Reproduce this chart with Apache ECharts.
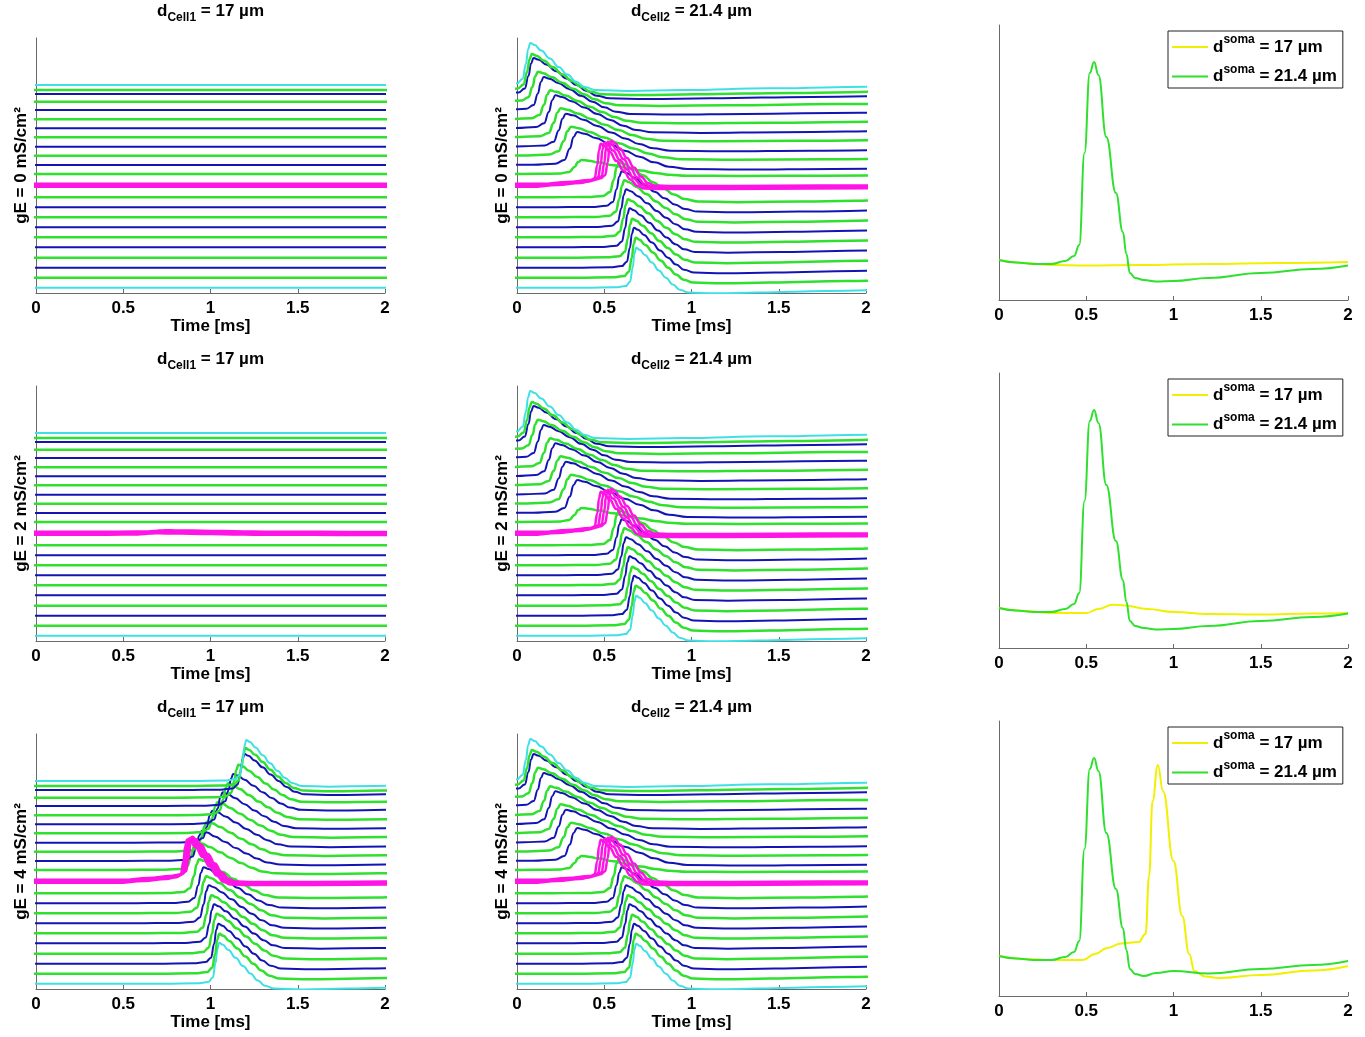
<!DOCTYPE html>
<html lang="en">
<head>
<meta charset="UTF-8">
<title>spike propagation traces</title>
<style>
  html, body { margin: 0; padding: 0; background: #fff; }
  #chart { width: 1365px; height: 1037px; }
</style>
</head>
<body>
<div id="chart"></div>
<script src="https://cdn.jsdelivr.net/npm/echarts@6/dist/echarts.min.js"></script>
<script>
// ---- data ----
const timeTicks = [0, 0.5, 1, 1.5, 2];
const gEValues = [0, 2, 4];

// resting offset of each stacked trace, bottom (0) to top (22); index 10 is the soma
const traceBase = [5.3, 15.3, 25.3, 35.3, 45.7, 55.7, 65.7, 75.7, 85.7, 95.7, 107.7, 119, 128, 137.3, 146.3, 155.7, 164.7, 173.7, 183, 191.3, 199, 203, 208];
const somaIndex = 10;
// soma is drawn as four overlapping compartments
const somaBase = [106.2, 107.2, 108.2, 109.2];

// spike shapes: time from peak [ms] and fraction of peak height
const axonSpikeT = [-1.6, -0.3, -0.12, -0.06, -0.035, -0.02, -0.01, 0, 0.02, 0.05, 0.09, 0.13, 0.17, 0.21, 0.25, 0.3, 0.45, 0.7, 1.1, 1.6, 2.4];
const axonSpikeV = [0, 0, 0.01, 0.04, 0.15, 0.5, 0.85, 1, 0.95, 0.82, 0.63, 0.43, 0.25, 0.08, -0.05, -0.12, -0.14, -0.12, -0.08, -0.04, 0];
const somaSpikeT = [-1.6, -0.4, -0.25, -0.12, -0.06, -0.035, -0.02, -0.01, 0, 0.02, 0.05, 0.09, 0.13, 0.17, 0.21, 0.25, 0.35, 0.7, 1.2, 2.4];
const somaSpikeV = [0, 0, 0.04, 0.09, 0.13, 0.2, 0.5, 0.85, 1, 0.95, 0.82, 0.6, 0.38, 0.17, 0.02, -0.04, -0.05, -0.05, -0.04, 0];

// Cell2 (21.4 µm): same in every row
const cell2Peak  = [0.683, 0.68, 0.67, 0.66, 0.645, 0.635, 0.625, 0.615, 0.6, 0.585, null, 0.37, 0.345, 0.31, 0.28, 0.25, 0.22, 0.19, 0.153, 0.12, 0.095, 0.085, 0.076];
const cell2Amp   = [40, 40, 40, 39, 39, 38, 38, 37, 36, 35, null, 14, 33, 29, 33, 29, 33, 29, 33, 30, 36, 36, 42];
const cell2Width = [1.0, 1.1, 1.15, 1.2, 1.25, 1.3, 1.35, 1.4, 1.45, 1.5, null, 2.0, 2.1, 2.1, 2.0, 1.95, 1.85, 1.75, 1.65, 1.55, 1.45, 1.35, 1.25];
const cell2SomaPeak = [0.48, 0.5, 0.52, 0.54];
const cell2SomaAmp = 43;

// Cell1 (17 µm)
const cell1Peak  = [1.05, 1.05, 1.045, 1.035, 1.02, 1.005, 0.99, 0.975, 0.96, 0.935, null, 0.92, 0.95, 0.98, 1.01, 1.04, 1.07, 1.1, 1.13, 1.16, 1.195, 1.2, 1.205];
const cell1Width = [1.05, 1.15, 1.2, 1.3, 1.35, 1.4, 1.45, 1.5, 1.5, 1.5, null, 1.5, 1.5, 1.5, 1.5, 1.45, 1.4, 1.35, 1.3, 1.2, 1.15, 1.1, 1.05];
const cell1AmpGE0 = [0, 0, 0, 0, 0, 0, 0, 0, 0, 0, null, 0, 0, 0, 0, 0, 0, 0, 0, 0, 0, 0, 0];
const cell1AmpGE2 = [0, 0, 0, 0, 0, 0, 0, 0, 0, 0, null, 0, 0, 0, 0, 0, 0, 0, 0, 0, 0, 0, 0];
const cell1AmpGE4 = [41, 40, 40, 40, 39, 38, 38, 37, 36, 34, null, 28, 30, 30, 32, 31, 32, 32, 32, 33, 36, 38, 41];
const cell1SomaPeakGE2 = [0.68, 0.7, 0.72, 0.74];
const cell1SomaPeakGE4 = [0.865, 0.875, 0.885, 0.895];
const cell1SomaAmp = [0, 1.5, 43];

// soma voltage, right column
const somaGreenT   = [0, 0.1, 0.2, 0.3, 0.38, 0.43, 0.46, 0.49, 0.52, 0.545, 0.57, 0.615, 0.67, 0.71, 0.73, 0.75, 0.78, 0.83, 0.9, 1.0, 1.2, 1.5, 1.8, 2];
const somaGreenGE0 = [40, 37.5, 36, 36, 39, 44, 55, 147, 227, 238, 225, 163, 107, 68, 46, 27, 22, 20, 18.5, 19, 22, 27, 31, 34.5];
const somaGreenGE4 = [40, 37.5, 36, 36, 39, 44, 55, 147, 227, 238, 225, 163, 107, 68, 46, 27, 22, 20, 23, 25, 22.5, 27, 31, 35];
const somaYellowT0 = [0, 0.15, 0.3, 0.5, 0.8, 1.2, 1.6, 2];
const somaYellow0  = [40, 37, 35, 34.5, 35, 36, 37, 38];
const somaYellowT2 = [0, 0.15, 0.3, 0.5, 0.57, 0.65, 0.72, 0.85, 1.0, 1.2, 1.5, 1.8, 2];
const somaYellow2  = [40, 37, 35, 35, 39, 43.3, 42.5, 39, 36, 34, 33.5, 34.5, 35];
const somaYellowT4 = [0, 0.15, 0.3, 0.48, 0.55, 0.62, 0.7, 0.8, 0.84, 0.86, 0.88, 0.91, 0.94, 1.0, 1.05, 1.09, 1.12, 1.18, 1.26, 1.5, 1.8, 2];
const somaYellow4  = [40, 37, 36, 36, 42, 48, 52.5, 54, 62, 120, 195, 231, 205, 135, 80, 42, 25, 19.5, 18, 21, 25.5, 30];

const name17 = 'dsoma = 17 µm';
const name21 = 'dsoma = 21.4 µm';

// ---- layout & styles ----
const colX = [36, 517, 999];
const stackTop = [38, 386, 734];
const somaTop = [25, 373, 721];
const plotW = 349, stackH = 255, somaH = 275;
const FONT = 'Liberation Sans, Arial, sans-serif';
const CYAN = '#3fe0e4', GREEN = '#2fe02f', BLUE = '#1414b4', MAGENTA = '#ff14e6', YELLOW = '#f0f000';

function traceColor(i) {
  if (i === 0 || i === traceBase.length - 1) return CYAN;
  return i % 2 === 1 ? GREEN : BLUE;
}

function spikeTrace(base, peak, amp, width, shapeT, shapeV) {
  return shapeT.map((t, k) => [peak + t * width, base + amp * shapeV[k]]);
}

function pairs(ts, vs) {
  return ts.map((t, k) => [t, vs[k]]);
}

function lineSeries(g, data, color, width, z, name) {
  return {
    type: 'line', name: name, xAxisIndex: g, yAxisIndex: g, data: data,
    symbol: 'none', showSymbol: false, smooth: 0.45, smoothMonotone: 'x',
    lineStyle: { color: color, width: width }, itemStyle: { color: color },
    z: z, silent: true, animation: false, clip: true
  };
}

const stackPanels = [];
for (let r = 0; r < 3; r++) {
  stackPanels.push({ row: r, col: 0, peak: cell1Peak, width: cell1Width,
    amp: [cell1AmpGE0, cell1AmpGE2, cell1AmpGE4][r],
    somaPeak: r === 2 ? cell1SomaPeakGE4 : cell1SomaPeakGE2,
    somaAmp: cell1SomaAmp[r], somaWidth: r === 1 ? 3 : 1.0 });
  stackPanels.push({ row: r, col: 1, peak: cell2Peak, width: cell2Width, amp: cell2Amp,
    somaPeak: cell2SomaPeak, somaAmp: cell2SomaAmp, somaWidth: 1.0 });
}

const somaPanels = [
  { row: 0, yellow: pairs(somaYellowT0, somaYellow0), green: pairs(somaGreenT, somaGreenGE0) },
  { row: 1, yellow: pairs(somaYellowT2, somaYellow2), green: pairs(somaGreenT, somaGreenGE0) },
  { row: 2, yellow: pairs(somaYellowT4, somaYellow4), green: pairs(somaGreenT, somaGreenGE4) }
];

const grids = [], xAxes = [], yAxes = [], series = [], legends = [], graphics = [];

const labelStyle = { fontFamily: FONT, fontWeight: 'bold', fontSize: 17, color: '#000' };

function addAxes(g, showName, ge) {
  xAxes.push({
    gridIndex: g, type: 'value', min: timeTicks[0], max: timeTicks[timeTicks.length - 1],
    interval: timeTicks[1] - timeTicks[0],
    axisLine: { show: true, onZero: false, lineStyle: { color: '#6a6a6a', width: 1 } },
    axisTick: { show: true, inside: true, length: 4, lineStyle: { color: '#6a6a6a' } },
    splitLine: { show: false },
    axisLabel: Object.assign({ margin: 7, formatter: v => String(v) }, labelStyle),
    name: showName ? 'Time [ms]' : '', nameLocation: 'middle', nameGap: 25,
    nameTextStyle: labelStyle
  });
  yAxes.push({
    gridIndex: g, type: 'value', min: 0, max: showName ? stackH : somaH,
    axisLine: { show: true, lineStyle: { color: '#6a6a6a', width: 1 } },
    axisTick: { show: false }, axisLabel: { show: false }, splitLine: { show: false },
    name: showName ? 'gE = ' + ge + ' mS/cm²' : '', nameLocation: 'middle', nameGap: 6,
    nameRotate: 90, nameTextStyle: labelStyle
  });
}

stackPanels.forEach(p => {
  const g = grids.length;
  grids.push({ left: colX[p.col], top: stackTop[p.row], width: plotW, height: stackH, containLabel: false, outerBoundsMode: 'none' });
  addAxes(g, true, gEValues[p.row]);
  for (let i = 0; i < traceBase.length; i++) {
    if (i === somaIndex) {
      somaBase.forEach((b, j) => {
        series.push(lineSeries(g, spikeTrace(b, p.somaPeak[j], p.somaAmp, p.somaWidth, somaSpikeT, somaSpikeV), MAGENTA, 2.5, 5));
      });
    } else {
      const c = traceColor(i);
      series.push(lineSeries(g, spikeTrace(traceBase[i], p.peak[i], p.amp[i], p.width[i], axonSpikeT, axonSpikeV), c, c === GREEN ? 2.5 : 2, 2));
    }
  }
  // panel title with subscript
  graphics.push({
    type: 'text', x: colX[p.col] + plotW / 2, y: stackTop[p.row] - 27,
    style: {
      text: '{m|d}{s|' + (p.col === 0 ? 'Cell1' : 'Cell2') + '}{m| = ' + (p.col === 0 ? '17' : '21.4') + ' µm}',
      align: 'center', verticalAlign: 'middle',
      rich: {
        m: { fontFamily: FONT, fontWeight: 'bold', fontSize: 17, fill: '#000', lineHeight: 26 },
        s: { fontFamily: FONT, fontWeight: 'bold', fontSize: 12, fill: '#000', lineHeight: 10, verticalAlign: 'bottom' }
      }
    }
  });
});

const legendRich = {
  m: { fontFamily: FONT, fontWeight: 'bold', fontSize: 17, color: '#000', lineHeight: 26 },
  s: { fontFamily: FONT, fontWeight: 'bold', fontSize: 12, color: '#000', lineHeight: 11, verticalAlign: 'top' }
};

somaPanels.forEach(p => {
  const g = grids.length;
  grids.push({ left: colX[2], top: somaTop[p.row], width: plotW, height: somaH, containLabel: false, outerBoundsMode: 'none' });
  addAxes(g, false, null);
  series.push(lineSeries(g, p.yellow, YELLOW, 2, 3, name17));
  series.push(lineSeries(g, p.green, GREEN, 2, 4, name21));
  legends.push({
    data: [name17, name21], orient: 'vertical', left: 1168, top: somaTop[p.row] + 6,
    icon: 'rect', itemWidth: 36, itemHeight: 2, itemGap: 8, padding: [3, 6, 3, 4],
    borderColor: '#222', borderWidth: 1, borderRadius: 0, backgroundColor: '#fff',
    selectedMode: false,
    formatter: n => n === name17 ? '{m|d}{s|soma}{m| = 17 µm}' : '{m|d}{s|soma}{m| = 21.4 µm}',
    textStyle: { fontFamily: FONT, fontWeight: 'bold', fontSize: 17, color: '#000', rich: legendRich }
  });
});

const chart = echarts.init(document.getElementById('chart'), null, { renderer: 'canvas' });
chart.setOption({
  animation: false,
  backgroundColor: '#fff',
  grid: grids, xAxis: xAxes, yAxis: yAxes,
  legend: legends, graphic: graphics, series: series
});
</script>
</body>
</html>
